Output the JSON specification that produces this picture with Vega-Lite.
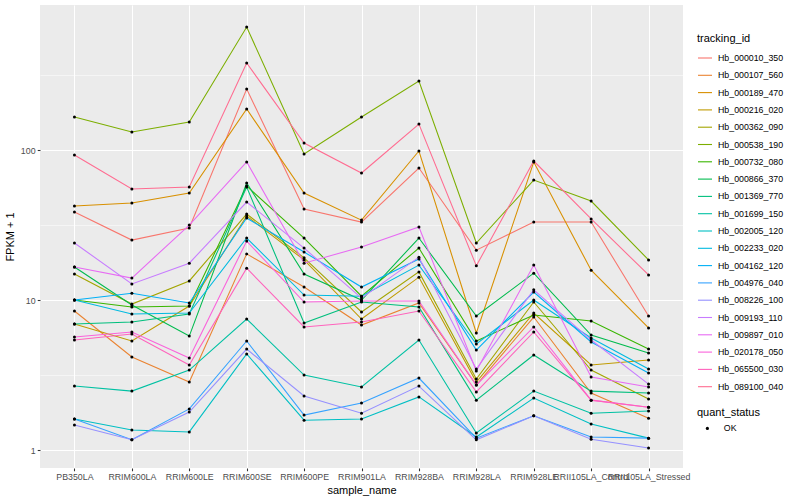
{
"$schema": "https://vega.github.io/schema/vega-lite/v6.json",
"autosize": {"type": "none"},
"width": 643, "height": 463,
"padding": {"left": 40, "top": 5, "right": 117, "bottom": 32},
"background": "white",
"config": {
  "font": "Liberation Sans",
  "view": {"fill": "#EBEBEB", "stroke": null},
  "axis": {"domain": false, "tickColor": "#333333", "tickSize": 2.75, "tickWidth": 1.07, "labelFontSize": 8.8, "labelColor": "#4D4D4D", "labelPadding": 2.2, "gridColor": "white", "gridWidth": 1.07, "titleFontSize": 11, "titleFontWeight": "normal", "titleColor": "black"}
},
"data": {"values": [
{"tracking_id":"Hb_000010_350","sample_name":"PB350LA","fpkm":38.6,"quant_status":"OK"},
{"tracking_id":"Hb_000010_350","sample_name":"RRIM600LA","fpkm":25.1,"quant_status":"OK"},
{"tracking_id":"Hb_000010_350","sample_name":"RRIM600LE","fpkm":30.2,"quant_status":"OK"},
{"tracking_id":"Hb_000010_350","sample_name":"RRIM600SE","fpkm":255.1,"quant_status":"OK"},
{"tracking_id":"Hb_000010_350","sample_name":"RRIM600PE","fpkm":40.4,"quant_status":"OK"},
{"tracking_id":"Hb_000010_350","sample_name":"RRIM901LA","fpkm":33.1,"quant_status":"OK"},
{"tracking_id":"Hb_000010_350","sample_name":"RRIM928BA","fpkm":75.9,"quant_status":"OK"},
{"tracking_id":"Hb_000010_350","sample_name":"RRIM928LA","fpkm":21.5,"quant_status":"OK"},
{"tracking_id":"Hb_000010_350","sample_name":"RRIM928LE","fpkm":33.1,"quant_status":"OK"},
{"tracking_id":"Hb_000010_350","sample_name":"RRII105LA_Control","fpkm":33.1,"quant_status":"OK"},
{"tracking_id":"Hb_000010_350","sample_name":"RRII105LA_Stressed","fpkm":7.82,"quant_status":"OK"},
{"tracking_id":"Hb_000107_560","sample_name":"PB350LA","fpkm":8.45,"quant_status":"OK"},
{"tracking_id":"Hb_000107_560","sample_name":"RRIM600LA","fpkm":4.17,"quant_status":"OK"},
{"tracking_id":"Hb_000107_560","sample_name":"RRIM600LE","fpkm":2.84,"quant_status":"OK"},
{"tracking_id":"Hb_000107_560","sample_name":"RRIM600SE","fpkm":20.3,"quant_status":"OK"},
{"tracking_id":"Hb_000107_560","sample_name":"RRIM600PE","fpkm":12.2,"quant_status":"OK"},
{"tracking_id":"Hb_000107_560","sample_name":"RRIM901LA","fpkm":6.81,"quant_status":"OK"},
{"tracking_id":"Hb_000107_560","sample_name":"RRIM928BA","fpkm":9.55,"quant_status":"OK"},
{"tracking_id":"Hb_000107_560","sample_name":"RRIM928LA","fpkm":2.71,"quant_status":"OK"},
{"tracking_id":"Hb_000107_560","sample_name":"RRIM928LE","fpkm":7.70,"quant_status":"OK"},
{"tracking_id":"Hb_000107_560","sample_name":"RRII105LA_Control","fpkm":2.40,"quant_status":"OK"},
{"tracking_id":"Hb_000107_560","sample_name":"RRII105LA_Stressed","fpkm":1.63,"quant_status":"OK"},
{"tracking_id":"Hb_000189_470","sample_name":"PB350LA","fpkm":42.3,"quant_status":"OK"},
{"tracking_id":"Hb_000189_470","sample_name":"RRIM600LA","fpkm":44.3,"quant_status":"OK"},
{"tracking_id":"Hb_000189_470","sample_name":"RRIM600LE","fpkm":51.7,"quant_status":"OK"},
{"tracking_id":"Hb_000189_470","sample_name":"RRIM600SE","fpkm":187.6,"quant_status":"OK"},
{"tracking_id":"Hb_000189_470","sample_name":"RRIM600PE","fpkm":51.7,"quant_status":"OK"},
{"tracking_id":"Hb_000189_470","sample_name":"RRIM901LA","fpkm":34.1,"quant_status":"OK"},
{"tracking_id":"Hb_000189_470","sample_name":"RRIM928BA","fpkm":98.5,"quant_status":"OK"},
{"tracking_id":"Hb_000189_470","sample_name":"RRIM928LA","fpkm":6.03,"quant_status":"OK"},
{"tracking_id":"Hb_000189_470","sample_name":"RRIM928LE","fpkm":83.2,"quant_status":"OK"},
{"tracking_id":"Hb_000189_470","sample_name":"RRII105LA_Control","fpkm":15.8,"quant_status":"OK"},
{"tracking_id":"Hb_000189_470","sample_name":"RRII105LA_Stressed","fpkm":6.51,"quant_status":"OK"},
{"tracking_id":"Hb_000216_020","sample_name":"PB350LA","fpkm":6.92,"quant_status":"OK"},
{"tracking_id":"Hb_000216_020","sample_name":"RRIM600LA","fpkm":5.33,"quant_status":"OK"},
{"tracking_id":"Hb_000216_020","sample_name":"RRIM600LE","fpkm":9.12,"quant_status":"OK"},
{"tracking_id":"Hb_000216_020","sample_name":"RRIM600SE","fpkm":36.3,"quant_status":"OK"},
{"tracking_id":"Hb_000216_020","sample_name":"RRIM600PE","fpkm":18.5,"quant_status":"OK"},
{"tracking_id":"Hb_000216_020","sample_name":"RRIM901LA","fpkm":7.47,"quant_status":"OK"},
{"tracking_id":"Hb_000216_020","sample_name":"RRIM928BA","fpkm":14.2,"quant_status":"OK"},
{"tracking_id":"Hb_000216_020","sample_name":"RRIM928LA","fpkm":2.84,"quant_status":"OK"},
{"tracking_id":"Hb_000216_020","sample_name":"RRIM928LE","fpkm":8.19,"quant_status":"OK"},
{"tracking_id":"Hb_000216_020","sample_name":"RRII105LA_Control","fpkm":3.69,"quant_status":"OK"},
{"tracking_id":"Hb_000216_020","sample_name":"RRII105LA_Stressed","fpkm":3.98,"quant_status":"OK"},
{"tracking_id":"Hb_000362_090","sample_name":"PB350LA","fpkm":14.9,"quant_status":"OK"},
{"tracking_id":"Hb_000362_090","sample_name":"RRIM600LA","fpkm":9.40,"quant_status":"OK"},
{"tracking_id":"Hb_000362_090","sample_name":"RRIM600LE","fpkm":13.4,"quant_status":"OK"},
{"tracking_id":"Hb_000362_090","sample_name":"RRIM600SE","fpkm":37.4,"quant_status":"OK"},
{"tracking_id":"Hb_000362_090","sample_name":"RRIM600PE","fpkm":19.1,"quant_status":"OK"},
{"tracking_id":"Hb_000362_090","sample_name":"RRIM901LA","fpkm":8.32,"quant_status":"OK"},
{"tracking_id":"Hb_000362_090","sample_name":"RRIM928BA","fpkm":15.4,"quant_status":"OK"},
{"tracking_id":"Hb_000362_090","sample_name":"RRIM928LA","fpkm":2.97,"quant_status":"OK"},
{"tracking_id":"Hb_000362_090","sample_name":"RRIM928LE","fpkm":9.70,"quant_status":"OK"},
{"tracking_id":"Hb_000362_090","sample_name":"RRII105LA_Control","fpkm":3.41,"quant_status":"OK"},
{"tracking_id":"Hb_000362_090","sample_name":"RRII105LA_Stressed","fpkm":2.19,"quant_status":"OK"},
{"tracking_id":"Hb_000538_190","sample_name":"PB350LA","fpkm":166.0,"quant_status":"OK"},
{"tracking_id":"Hb_000538_190","sample_name":"RRIM600LA","fpkm":131.8,"quant_status":"OK"},
{"tracking_id":"Hb_000538_190","sample_name":"RRIM600LE","fpkm":153.7,"quant_status":"OK"},
{"tracking_id":"Hb_000538_190","sample_name":"RRIM600SE","fpkm":660.7,"quant_status":"OK"},
{"tracking_id":"Hb_000538_190","sample_name":"RRIM600PE","fpkm":94.0,"quant_status":"OK"},
{"tracking_id":"Hb_000538_190","sample_name":"RRIM901LA","fpkm":166.0,"quant_status":"OK"},
{"tracking_id":"Hb_000538_190","sample_name":"RRIM928BA","fpkm":288.4,"quant_status":"OK"},
{"tracking_id":"Hb_000538_190","sample_name":"RRIM928LA","fpkm":24.0,"quant_status":"OK"},
{"tracking_id":"Hb_000538_190","sample_name":"RRIM928LE","fpkm":63.1,"quant_status":"OK"},
{"tracking_id":"Hb_000538_190","sample_name":"RRII105LA_Control","fpkm":45.7,"quant_status":"OK"},
{"tracking_id":"Hb_000538_190","sample_name":"RRII105LA_Stressed","fpkm":18.5,"quant_status":"OK"},
{"tracking_id":"Hb_000732_080","sample_name":"PB350LA","fpkm":10.0,"quant_status":"OK"},
{"tracking_id":"Hb_000732_080","sample_name":"RRIM600LA","fpkm":8.98,"quant_status":"OK"},
{"tracking_id":"Hb_000732_080","sample_name":"RRIM600LE","fpkm":9.12,"quant_status":"OK"},
{"tracking_id":"Hb_000732_080","sample_name":"RRIM600SE","fpkm":57.5,"quant_status":"OK"},
{"tracking_id":"Hb_000732_080","sample_name":"RRIM600PE","fpkm":25.9,"quant_status":"OK"},
{"tracking_id":"Hb_000732_080","sample_name":"RRIM901LA","fpkm":10.6,"quant_status":"OK"},
{"tracking_id":"Hb_000732_080","sample_name":"RRIM928BA","fpkm":22.2,"quant_status":"OK"},
{"tracking_id":"Hb_000732_080","sample_name":"RRIM928LA","fpkm":5.33,"quant_status":"OK"},
{"tracking_id":"Hb_000732_080","sample_name":"RRIM928LE","fpkm":7.94,"quant_status":"OK"},
{"tracking_id":"Hb_000732_080","sample_name":"RRII105LA_Control","fpkm":7.24,"quant_status":"OK"},
{"tracking_id":"Hb_000732_080","sample_name":"RRII105LA_Stressed","fpkm":4.71,"quant_status":"OK"},
{"tracking_id":"Hb_000866_370","sample_name":"PB350LA","fpkm":16.6,"quant_status":"OK"},
{"tracking_id":"Hb_000866_370","sample_name":"RRIM600LA","fpkm":9.26,"quant_status":"OK"},
{"tracking_id":"Hb_000866_370","sample_name":"RRIM600LE","fpkm":5.75,"quant_status":"OK"},
{"tracking_id":"Hb_000866_370","sample_name":"RRIM600SE","fpkm":60.3,"quant_status":"OK"},
{"tracking_id":"Hb_000866_370","sample_name":"RRIM600PE","fpkm":14.9,"quant_status":"OK"},
{"tracking_id":"Hb_000866_370","sample_name":"RRIM901LA","fpkm":10.0,"quant_status":"OK"},
{"tracking_id":"Hb_000866_370","sample_name":"RRIM928BA","fpkm":25.9,"quant_status":"OK"},
{"tracking_id":"Hb_000866_370","sample_name":"RRIM928LA","fpkm":7.82,"quant_status":"OK"},
{"tracking_id":"Hb_000866_370","sample_name":"RRIM928LE","fpkm":15.1,"quant_status":"OK"},
{"tracking_id":"Hb_000866_370","sample_name":"RRII105LA_Control","fpkm":5.84,"quant_status":"OK"},
{"tracking_id":"Hb_000866_370","sample_name":"RRII105LA_Stressed","fpkm":4.43,"quant_status":"OK"},
{"tracking_id":"Hb_001369_770","sample_name":"PB350LA","fpkm":6.92,"quant_status":"OK"},
{"tracking_id":"Hb_001369_770","sample_name":"RRIM600LA","fpkm":7.13,"quant_status":"OK"},
{"tracking_id":"Hb_001369_770","sample_name":"RRIM600LE","fpkm":8.07,"quant_status":"OK"},
{"tracking_id":"Hb_001369_770","sample_name":"RRIM600SE","fpkm":56.7,"quant_status":"OK"},
{"tracking_id":"Hb_001369_770","sample_name":"RRIM600PE","fpkm":7.03,"quant_status":"OK"},
{"tracking_id":"Hb_001369_770","sample_name":"RRIM901LA","fpkm":9.70,"quant_status":"OK"},
{"tracking_id":"Hb_001369_770","sample_name":"RRIM928BA","fpkm":8.98,"quant_status":"OK"},
{"tracking_id":"Hb_001369_770","sample_name":"RRIM928LA","fpkm":2.15,"quant_status":"OK"},
{"tracking_id":"Hb_001369_770","sample_name":"RRIM928LE","fpkm":4.30,"quant_status":"OK"},
{"tracking_id":"Hb_001369_770","sample_name":"RRII105LA_Control","fpkm":2.47,"quant_status":"OK"},
{"tracking_id":"Hb_001369_770","sample_name":"RRII105LA_Stressed","fpkm":2.40,"quant_status":"OK"},
{"tracking_id":"Hb_001699_150","sample_name":"PB350LA","fpkm":2.67,"quant_status":"OK"},
{"tracking_id":"Hb_001699_150","sample_name":"RRIM600LA","fpkm":2.47,"quant_status":"OK"},
{"tracking_id":"Hb_001699_150","sample_name":"RRIM600LE","fpkm":3.41,"quant_status":"OK"},
{"tracking_id":"Hb_001699_150","sample_name":"RRIM600SE","fpkm":7.47,"quant_status":"OK"},
{"tracking_id":"Hb_001699_150","sample_name":"RRIM600PE","fpkm":3.16,"quant_status":"OK"},
{"tracking_id":"Hb_001699_150","sample_name":"RRIM901LA","fpkm":2.63,"quant_status":"OK"},
{"tracking_id":"Hb_001699_150","sample_name":"RRIM928BA","fpkm":5.41,"quant_status":"OK"},
{"tracking_id":"Hb_001699_150","sample_name":"RRIM928LA","fpkm":1.30,"quant_status":"OK"},
{"tracking_id":"Hb_001699_150","sample_name":"RRIM928LE","fpkm":2.47,"quant_status":"OK"},
{"tracking_id":"Hb_001699_150","sample_name":"RRII105LA_Control","fpkm":1.76,"quant_status":"OK"},
{"tracking_id":"Hb_001699_150","sample_name":"RRII105LA_Stressed","fpkm":1.82,"quant_status":"OK"},
{"tracking_id":"Hb_002005_120","sample_name":"PB350LA","fpkm":1.61,"quant_status":"OK"},
{"tracking_id":"Hb_002005_120","sample_name":"RRIM600LA","fpkm":1.36,"quant_status":"OK"},
{"tracking_id":"Hb_002005_120","sample_name":"RRIM600LE","fpkm":1.32,"quant_status":"OK"},
{"tracking_id":"Hb_002005_120","sample_name":"RRIM600SE","fpkm":4.37,"quant_status":"OK"},
{"tracking_id":"Hb_002005_120","sample_name":"RRIM600PE","fpkm":1.58,"quant_status":"OK"},
{"tracking_id":"Hb_002005_120","sample_name":"RRIM901LA","fpkm":1.61,"quant_status":"OK"},
{"tracking_id":"Hb_002005_120","sample_name":"RRIM928BA","fpkm":2.26,"quant_status":"OK"},
{"tracking_id":"Hb_002005_120","sample_name":"RRIM928LA","fpkm":1.22,"quant_status":"OK"},
{"tracking_id":"Hb_002005_120","sample_name":"RRIM928LE","fpkm":2.22,"quant_status":"OK"},
{"tracking_id":"Hb_002005_120","sample_name":"RRII105LA_Control","fpkm":1.49,"quant_status":"OK"},
{"tracking_id":"Hb_002005_120","sample_name":"RRII105LA_Stressed","fpkm":1.20,"quant_status":"OK"},
{"tracking_id":"Hb_002233_020","sample_name":"PB350LA","fpkm":10.0,"quant_status":"OK"},
{"tracking_id":"Hb_002233_020","sample_name":"RRIM600LA","fpkm":8.07,"quant_status":"OK"},
{"tracking_id":"Hb_002233_020","sample_name":"RRIM600LE","fpkm":8.19,"quant_status":"OK"},
{"tracking_id":"Hb_002233_020","sample_name":"RRIM600SE","fpkm":25.9,"quant_status":"OK"},
{"tracking_id":"Hb_002233_020","sample_name":"RRIM600PE","fpkm":10.8,"quant_status":"OK"},
{"tracking_id":"Hb_002233_020","sample_name":"RRIM901LA","fpkm":10.6,"quant_status":"OK"},
{"tracking_id":"Hb_002233_020","sample_name":"RRIM928BA","fpkm":17.1,"quant_status":"OK"},
{"tracking_id":"Hb_002233_020","sample_name":"RRIM928LA","fpkm":5.09,"quant_status":"OK"},
{"tracking_id":"Hb_002233_020","sample_name":"RRIM928LE","fpkm":10.0,"quant_status":"OK"},
{"tracking_id":"Hb_002233_020","sample_name":"RRII105LA_Control","fpkm":5.58,"quant_status":"OK"},
{"tracking_id":"Hb_002233_020","sample_name":"RRII105LA_Stressed","fpkm":3.47,"quant_status":"OK"},
{"tracking_id":"Hb_004162_120","sample_name":"PB350LA","fpkm":10.0,"quant_status":"OK"},
{"tracking_id":"Hb_004162_120","sample_name":"RRIM600LA","fpkm":11.1,"quant_status":"OK"},
{"tracking_id":"Hb_004162_120","sample_name":"RRIM600LE","fpkm":9.55,"quant_status":"OK"},
{"tracking_id":"Hb_004162_120","sample_name":"RRIM600SE","fpkm":35.2,"quant_status":"OK"},
{"tracking_id":"Hb_004162_120","sample_name":"RRIM600PE","fpkm":20.9,"quant_status":"OK"},
{"tracking_id":"Hb_004162_120","sample_name":"RRIM901LA","fpkm":12.2,"quant_status":"OK"},
{"tracking_id":"Hb_004162_120","sample_name":"RRIM928BA","fpkm":18.8,"quant_status":"OK"},
{"tracking_id":"Hb_004162_120","sample_name":"RRIM928LA","fpkm":4.64,"quant_status":"OK"},
{"tracking_id":"Hb_004162_120","sample_name":"RRIM928LE","fpkm":11.3,"quant_status":"OK"},
{"tracking_id":"Hb_004162_120","sample_name":"RRII105LA_Control","fpkm":5.25,"quant_status":"OK"},
{"tracking_id":"Hb_004162_120","sample_name":"RRII105LA_Stressed","fpkm":3.26,"quant_status":"OK"},
{"tracking_id":"Hb_004976_040","sample_name":"PB350LA","fpkm":1.61,"quant_status":"OK"},
{"tracking_id":"Hb_004976_040","sample_name":"RRIM600LA","fpkm":1.17,"quant_status":"OK"},
{"tracking_id":"Hb_004976_040","sample_name":"RRIM600LE","fpkm":1.88,"quant_status":"OK"},
{"tracking_id":"Hb_004976_040","sample_name":"RRIM600SE","fpkm":5.33,"quant_status":"OK"},
{"tracking_id":"Hb_004976_040","sample_name":"RRIM600PE","fpkm":1.71,"quant_status":"OK"},
{"tracking_id":"Hb_004976_040","sample_name":"RRIM901LA","fpkm":2.06,"quant_status":"OK"},
{"tracking_id":"Hb_004976_040","sample_name":"RRIM928BA","fpkm":3.02,"quant_status":"OK"},
{"tracking_id":"Hb_004976_040","sample_name":"RRIM928LA","fpkm":1.20,"quant_status":"OK"},
{"tracking_id":"Hb_004976_040","sample_name":"RRIM928LE","fpkm":1.69,"quant_status":"OK"},
{"tracking_id":"Hb_004976_040","sample_name":"RRII105LA_Control","fpkm":1.22,"quant_status":"OK"},
{"tracking_id":"Hb_004976_040","sample_name":"RRII105LA_Stressed","fpkm":1.20,"quant_status":"OK"},
{"tracking_id":"Hb_008226_100","sample_name":"PB350LA","fpkm":1.47,"quant_status":"OK"},
{"tracking_id":"Hb_008226_100","sample_name":"RRIM600LA","fpkm":1.17,"quant_status":"OK"},
{"tracking_id":"Hb_008226_100","sample_name":"RRIM600LE","fpkm":1.79,"quant_status":"OK"},
{"tracking_id":"Hb_008226_100","sample_name":"RRIM600SE","fpkm":4.71,"quant_status":"OK"},
{"tracking_id":"Hb_008226_100","sample_name":"RRIM600PE","fpkm":2.29,"quant_status":"OK"},
{"tracking_id":"Hb_008226_100","sample_name":"RRIM901LA","fpkm":1.76,"quant_status":"OK"},
{"tracking_id":"Hb_008226_100","sample_name":"RRIM928BA","fpkm":2.67,"quant_status":"OK"},
{"tracking_id":"Hb_008226_100","sample_name":"RRIM928LA","fpkm":1.17,"quant_status":"OK"},
{"tracking_id":"Hb_008226_100","sample_name":"RRIM928LE","fpkm":1.69,"quant_status":"OK"},
{"tracking_id":"Hb_008226_100","sample_name":"RRII105LA_Control","fpkm":1.18,"quant_status":"OK"},
{"tracking_id":"Hb_008226_100","sample_name":"RRII105LA_Stressed","fpkm":1.03,"quant_status":"OK"},
{"tracking_id":"Hb_009193_110","sample_name":"PB350LA","fpkm":24.0,"quant_status":"OK"},
{"tracking_id":"Hb_009193_110","sample_name":"RRIM600LA","fpkm":12.8,"quant_status":"OK"},
{"tracking_id":"Hb_009193_110","sample_name":"RRIM600LE","fpkm":17.6,"quant_status":"OK"},
{"tracking_id":"Hb_009193_110","sample_name":"RRIM600SE","fpkm":45.0,"quant_status":"OK"},
{"tracking_id":"Hb_009193_110","sample_name":"RRIM600PE","fpkm":22.2,"quant_status":"OK"},
{"tracking_id":"Hb_009193_110","sample_name":"RRIM901LA","fpkm":10.3,"quant_status":"OK"},
{"tracking_id":"Hb_009193_110","sample_name":"RRIM928BA","fpkm":19.3,"quant_status":"OK"},
{"tracking_id":"Hb_009193_110","sample_name":"RRIM928LA","fpkm":3.47,"quant_status":"OK"},
{"tracking_id":"Hb_009193_110","sample_name":"RRIM928LE","fpkm":11.7,"quant_status":"OK"},
{"tracking_id":"Hb_009193_110","sample_name":"RRII105LA_Control","fpkm":5.41,"quant_status":"OK"},
{"tracking_id":"Hb_009193_110","sample_name":"RRII105LA_Stressed","fpkm":2.75,"quant_status":"OK"},
{"tracking_id":"Hb_009897_010","sample_name":"PB350LA","fpkm":16.6,"quant_status":"OK"},
{"tracking_id":"Hb_009897_010","sample_name":"RRIM600LA","fpkm":14.0,"quant_status":"OK"},
{"tracking_id":"Hb_009897_010","sample_name":"RRIM600LE","fpkm":31.6,"quant_status":"OK"},
{"tracking_id":"Hb_009897_010","sample_name":"RRIM600SE","fpkm":83.2,"quant_status":"OK"},
{"tracking_id":"Hb_009897_010","sample_name":"RRIM600PE","fpkm":17.6,"quant_status":"OK"},
{"tracking_id":"Hb_009897_010","sample_name":"RRIM901LA","fpkm":22.6,"quant_status":"OK"},
{"tracking_id":"Hb_009897_010","sample_name":"RRIM928BA","fpkm":30.7,"quant_status":"OK"},
{"tracking_id":"Hb_009897_010","sample_name":"RRIM928LA","fpkm":3.36,"quant_status":"OK"},
{"tracking_id":"Hb_009897_010","sample_name":"RRIM928LE","fpkm":17.1,"quant_status":"OK"},
{"tracking_id":"Hb_009897_010","sample_name":"RRII105LA_Control","fpkm":3.07,"quant_status":"OK"},
{"tracking_id":"Hb_009897_010","sample_name":"RRII105LA_Stressed","fpkm":2.63,"quant_status":"OK"},
{"tracking_id":"Hb_020178_050","sample_name":"PB350LA","fpkm":5.67,"quant_status":"OK"},
{"tracking_id":"Hb_020178_050","sample_name":"RRIM600LA","fpkm":6.12,"quant_status":"OK"},
{"tracking_id":"Hb_020178_050","sample_name":"RRIM600LE","fpkm":4.11,"quant_status":"OK"},
{"tracking_id":"Hb_020178_050","sample_name":"RRIM600SE","fpkm":24.7,"quant_status":"OK"},
{"tracking_id":"Hb_020178_050","sample_name":"RRIM600PE","fpkm":9.70,"quant_status":"OK"},
{"tracking_id":"Hb_020178_050","sample_name":"RRIM901LA","fpkm":9.85,"quant_status":"OK"},
{"tracking_id":"Hb_020178_050","sample_name":"RRIM928BA","fpkm":9.85,"quant_status":"OK"},
{"tracking_id":"Hb_020178_050","sample_name":"RRIM928LA","fpkm":2.71,"quant_status":"OK"},
{"tracking_id":"Hb_020178_050","sample_name":"RRIM928LE","fpkm":6.61,"quant_status":"OK"},
{"tracking_id":"Hb_020178_050","sample_name":"RRII105LA_Control","fpkm":2.15,"quant_status":"OK"},
{"tracking_id":"Hb_020178_050","sample_name":"RRII105LA_Stressed","fpkm":1.93,"quant_status":"OK"},
{"tracking_id":"Hb_065500_030","sample_name":"PB350LA","fpkm":5.41,"quant_status":"OK"},
{"tracking_id":"Hb_065500_030","sample_name":"RRIM600LA","fpkm":5.93,"quant_status":"OK"},
{"tracking_id":"Hb_065500_030","sample_name":"RRIM600LE","fpkm":3.69,"quant_status":"OK"},
{"tracking_id":"Hb_065500_030","sample_name":"RRIM600SE","fpkm":16.3,"quant_status":"OK"},
{"tracking_id":"Hb_065500_030","sample_name":"RRIM600PE","fpkm":6.61,"quant_status":"OK"},
{"tracking_id":"Hb_065500_030","sample_name":"RRIM901LA","fpkm":7.13,"quant_status":"OK"},
{"tracking_id":"Hb_065500_030","sample_name":"RRIM928BA","fpkm":8.45,"quant_status":"OK"},
{"tracking_id":"Hb_065500_030","sample_name":"RRIM928LA","fpkm":2.44,"quant_status":"OK"},
{"tracking_id":"Hb_065500_030","sample_name":"RRIM928LE","fpkm":6.12,"quant_status":"OK"},
{"tracking_id":"Hb_065500_030","sample_name":"RRII105LA_Control","fpkm":2.15,"quant_status":"OK"},
{"tracking_id":"Hb_065500_030","sample_name":"RRII105LA_Stressed","fpkm":1.93,"quant_status":"OK"},
{"tracking_id":"Hb_089100_040","sample_name":"PB350LA","fpkm":92.6,"quant_status":"OK"},
{"tracking_id":"Hb_089100_040","sample_name":"RRIM600LA","fpkm":55.0,"quant_status":"OK"},
{"tracking_id":"Hb_089100_040","sample_name":"RRIM600LE","fpkm":56.7,"quant_status":"OK"},
{"tracking_id":"Hb_089100_040","sample_name":"RRIM600SE","fpkm":380.2,"quant_status":"OK"},
{"tracking_id":"Hb_089100_040","sample_name":"RRIM600PE","fpkm":111.3,"quant_status":"OK"},
{"tracking_id":"Hb_089100_040","sample_name":"RRIM901LA","fpkm":70.3,"quant_status":"OK"},
{"tracking_id":"Hb_089100_040","sample_name":"RRIM928BA","fpkm":149.1,"quant_status":"OK"},
{"tracking_id":"Hb_089100_040","sample_name":"RRIM928LA","fpkm":16.9,"quant_status":"OK"},
{"tracking_id":"Hb_089100_040","sample_name":"RRIM928LE","fpkm":84.5,"quant_status":"OK"},
{"tracking_id":"Hb_089100_040","sample_name":"RRII105LA_Control","fpkm":34.7,"quant_status":"OK"},
{"tracking_id":"Hb_089100_040","sample_name":"RRII105LA_Stressed","fpkm":14.7,"quant_status":"OK"}
]},
"encoding": {
  "x": {"field": "sample_name", "type": "nominal",
        "sort": ["PB350LA","RRIM600LA","RRIM600LE","RRIM600SE","RRIM600PE","RRIM901LA","RRIM928BA","RRIM928LA","RRIM928LE","RRII105LA_Control","RRII105LA_Stressed"],
        "scale": {"type": "point", "padding": 0.6},
        "axis": {"title": "sample_name", "labelAngle": 0, "labelOverlap": false, "labelBound": false, "labelFlush": false, "grid": true, "titlePadding": 3}},
  "y": {"field": "fpkm", "type": "quantitative",
        "scale": {"type": "log", "domain": [0.7586, 926.8], "nice": false, "zero": false},
        "axis": {"title": "FPKM + 1", "values": [1, 3.1623, 10, 31.623, 100, 316.23], "labelOverlap": false, "grid": true,
                 "labelExpr": "(datum.value == 1 || datum.value == 10 || datum.value == 100) ? format(datum.value, '~g') : ''",
                 "gridWidth": {"condition": {"test": "datum.value == 1 || datum.value == 10 || datum.value == 100", "value": 1.07}, "value": 0.53},
                 "tickOpacity": {"condition": {"test": "datum.value == 1 || datum.value == 10 || datum.value == 100", "value": 1}, "value": 0},
                 "titlePadding": 5}}
},
"layer": [
  {"mark": {"type": "line", "strokeWidth": 1.07},
   "encoding": {
     "color": {"field": "tracking_id", "type": "nominal",
       "scale": {"domain": ["Hb_000010_350","Hb_000107_560","Hb_000189_470","Hb_000216_020","Hb_000362_090","Hb_000538_190","Hb_000732_080","Hb_000866_370","Hb_001369_770","Hb_001699_150","Hb_002005_120","Hb_002233_020","Hb_004162_120","Hb_004976_040","Hb_008226_100","Hb_009193_110","Hb_009897_010","Hb_020178_050","Hb_065500_030","Hb_089100_040"],
                 "range": ["#F8766D","#EA8331","#D89000","#C09B00","#A3A500","#7CAE00","#39B600","#00BB4E","#00BF7D","#00C1A3","#00BFC4","#00BAE0","#00B0F6","#35A2FF","#9590FF","#C77CFF","#E76BF3","#FA62DB","#FF62BC","#FF6C91"]},
       "legend": {"title": "tracking_id", "orient": "none", "legendX": 657, "legendY": 28, "symbolType": "stroke", "symbolSize": 196, "symbolStrokeWidth": 1.1, "labelFontSize": 8.8, "labelColor": "black", "titleFontSize": 11, "titleFontWeight": "normal", "rowPadding": 4.3, "labelOffset": 5, "titlePadding": 6}}
   }},
  {"mark": {"type": "point", "filled": true, "size": 9, "opacity": 1, "color": "black"},
   "encoding": {
     "shape": {"field": "quant_status", "type": "nominal", "scale": {"range": ["circle"]},
       "legend": {"title": "quant_status", "orient": "none", "legendX": 657, "legendY": 402, "symbolSize": 10, "symbolFillColor": "black", "symbolStrokeColor": "black", "labelFontSize": 8.8, "labelColor": "black", "titleFontSize": 11, "titleFontWeight": "normal", "titlePadding": 6, "symbolOffset": 6, "labelOffset": 12}},
     "detail": {"field": "tracking_id", "type": "nominal"}
   }}
]
}
